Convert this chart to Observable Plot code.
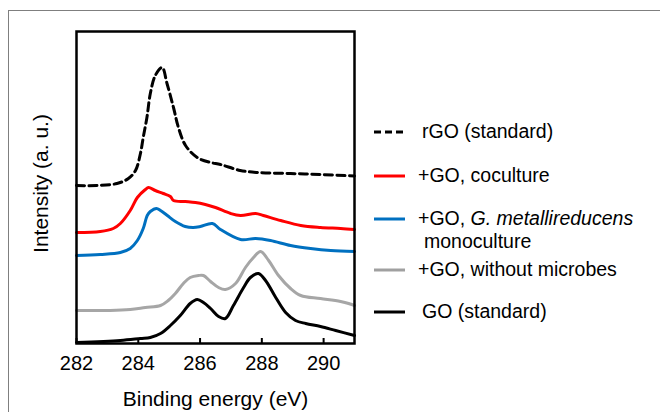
<!DOCTYPE html>
<html>
<head>
<meta charset="utf-8">
<script src="https://cdn.jsdelivr.net/npm/d3@7"></script>
<script src="https://cdn.jsdelivr.net/npm/@observablehq/plot@0.6"></script>
<style>
  body { margin: 0; background: #fff; font-family: "Liberation Sans", Arial, sans-serif; }
  #wrap { position: relative; width: 660px; height: 412px; overflow: hidden; }
  #outer { position: absolute; left: 8px; top: 10px; width: 700px; height: 450px;
           border-top: 1.5px solid #7f7f7f; border-left: 1.5px solid #7f7f7f; }
  .leg { position: absolute; font-size: 19.5px; color: #000; white-space: nowrap; line-height: 1; }
  .sw { position: absolute; }
</style>
</head>
<body>
<div id="wrap"><div id="outer"></div></div>
<script>
// ---- data ----
const seriesNames = ["rGO (standard)", "+GO, coculture", "+GO, G. metallireducens monoculture", "+GO, without microbes", "GO (standard)"];
const xTicks = [282, 284, 286, 288, 290];

const rgoE = [282.0, 282.66, 283.31, 283.68, 283.91, 284.07, 284.16, 284.28, 284.39, 284.55, 284.77, 284.93, 285.14, 285.3, 285.53, 285.91, 286.34, 286.66, 287.3, 287.86, 288.93, 289.9, 291.0];
const rgoI = [158, 158, 160, 165, 173, 190, 206, 226, 250, 268, 276, 260, 236, 216, 198, 186, 181, 179, 173, 171, 170, 169, 167.5];

const cocE = [282.0, 282.77, 283.19, 283.42, 283.74, 283.97, 284.23, 284.33, 284.55, 284.81, 285.04, 285.14, 285.52, 285.85, 286.17, 286.5, 286.99, 287.31, 287.8, 288.05, 288.61, 289.26, 289.9, 290.55, 291.0];
const cocI = [111, 112, 115, 120, 133, 146, 154, 156, 153, 150, 147, 143, 142, 141, 139, 136, 130, 128, 130, 128, 123, 118, 116, 115, 114];

const monoE = [282.0, 282.77, 283.42, 283.74, 283.97, 284.16, 284.29, 284.39, 284.59, 284.72, 284.94, 285.2, 285.52, 285.78, 286.01, 286.4, 286.66, 287.31, 287.8, 288.28, 288.93, 289.58, 290.23, 291.0];
const monoI = [88, 89, 91, 95, 103, 115, 128, 132, 135, 133, 128, 122, 117, 116, 117, 120, 114, 104, 105, 103, 98, 95, 93, 92];

const noMicE = [282.0, 283.09, 283.74, 284.23, 284.72, 284.97, 285.2, 285.46, 285.68, 285.95, 286.11, 286.34, 286.6, 286.82, 287.15, 287.47, 287.73, 287.96, 288.22, 288.54, 288.93, 289.26, 289.9, 290.55, 291.0];
const noMicI = [33, 33, 34, 36, 38, 43, 50, 60, 66, 68, 68, 62, 56, 54, 60, 76, 86, 92, 83, 68, 55, 48, 45, 42, 38];

const goE = [282.0, 283.42, 284.07, 284.39, 284.72, 285.04, 285.36, 285.68, 285.91, 286.11, 286.34, 286.6, 286.82, 287.08, 287.41, 287.63, 287.89, 288.12, 288.45, 288.77, 289.09, 289.42, 289.9, 290.39, 291.0];
const goI = [1, 3, 5, 6, 10, 18, 28, 40, 44, 41, 35, 27, 25, 38, 56, 66, 70, 63, 46, 31, 23, 20, 17, 13, 8];

const colors = ["#000000", "#ff0000", "#0070c0", "#a6a6a6", "#000000"];

// ---- build table ----
const sets = [[rgoE, rgoI], [cocE, cocI], [monoE, monoI], [noMicE, noMicI], [goE, goI]];
const rows = [];
sets.forEach(([E, I], k) => E.forEach((e, i) => rows.push({series: seriesNames[k], e, v: I[i]})));
const of = name => rows.filter(r => r.series === name);

const W = 660, H = 412, mL = 76, mR = 306, mT = 31, mB = 69;
const plotH = H - mT - mB;

const chart = Plot.plot({
  width: W, height: H,
  marginLeft: mL, marginRight: mR, marginTop: mT, marginBottom: mB,
  style: {fontFamily: '"Liberation Sans", Arial, sans-serif', background: "transparent", overflow: "visible"},
  x: {domain: [282, 291]},
  y: {domain: [0, 312]},
  marks: [
    Plot.line(of(seriesNames[4]), {x: "e", y: "v", stroke: colors[4], strokeWidth: 3, curve: "catmull-rom"}),
    Plot.line(of(seriesNames[3]), {x: "e", y: "v", stroke: colors[3], strokeWidth: 3, curve: "catmull-rom"}),
    Plot.line(of(seriesNames[2]), {x: "e", y: "v", stroke: colors[2], strokeWidth: 3, curve: "catmull-rom"}),
    Plot.line(of(seriesNames[1]), {x: "e", y: "v", stroke: colors[1], strokeWidth: 3, curve: "catmull-rom"}),
    Plot.line(of(seriesNames[0]), {x: "e", y: "v", stroke: colors[0], strokeWidth: 3, strokeDasharray: "8,4.5", curve: "catmull-rom"}),
    Plot.tickX(xTicks, {x: d => d, insetTop: plotH - 5, stroke: "black", strokeWidth: 2}),
    Plot.frame({stroke: "black", strokeWidth: 2.5}),
    Plot.axisX({ticks: xTicks, tickSize: 0, tickPadding: 12, fontSize: 20, label: null, tickFormat: d => String(d)}),
    Plot.axisY({ticks: [], label: null}),
    Plot.text(["Binding energy (eV)"], {frameAnchor: "bottom", dy: 62, fontSize: 21, text: d => d}),
    Plot.text(["Intensity (a. u.)"], {frameAnchor: "left", textAnchor: "middle", dx: -35, dy: -4, rotate: -90, fontSize: 21, text: d => d})
  ]
});
chart.style.position = "absolute";
chart.style.left = "0px";
chart.style.top = "0px";
const wrap = document.getElementById("wrap");
wrap.appendChild(chart);

// ---- legend ----
const legendItems = [
  {y: 132, color: colors[0], dash: "7,4", tx: 422, html: "rGO (standard)"},
  {y: 176, color: colors[1], dash: null, tx: 418, html: "+GO, coculture"},
  {y: 219, color: colors[2], dash: null, tx: 418, html: "+GO, <i>G. metallireducens</i>"},
  {y: 270, color: "#a0a0a0", dash: null, tx: 418, html: "+GO, without microbes"},
  {y: 312, color: colors[4], dash: null, tx: 422, html: "GO (standard)"}
];
legendItems.forEach(it => {
  const ns = "http://www.w3.org/2000/svg";
  const s = document.createElementNS(ns, "svg");
  s.setAttribute("class", "sw");
  s.setAttribute("width", 36); s.setAttribute("height", 8);
  s.style.left = "372px"; s.style.top = (it.y - 4) + "px";
  const l = document.createElementNS(ns, "line");
  l.setAttribute("x1", 2); l.setAttribute("x2", 33); l.setAttribute("y1", 4); l.setAttribute("y2", 4);
  l.setAttribute("stroke", it.color); l.setAttribute("stroke-width", 3);
  if (it.dash) l.setAttribute("stroke-dasharray", it.dash);
  s.appendChild(l);
  wrap.appendChild(s);
  const t = document.createElement("div");
  t.className = "leg";
  t.innerHTML = it.html;
  t.style.left = it.tx + "px";
  t.style.top = (it.y - 10) + "px";
  wrap.appendChild(t);
});
const t2 = document.createElement("div");
t2.className = "leg";
t2.textContent = "monoculture";
t2.style.left = "424px";
t2.style.top = (242 - 10) + "px";
wrap.appendChild(t2);
</script>
</body>
</html>
